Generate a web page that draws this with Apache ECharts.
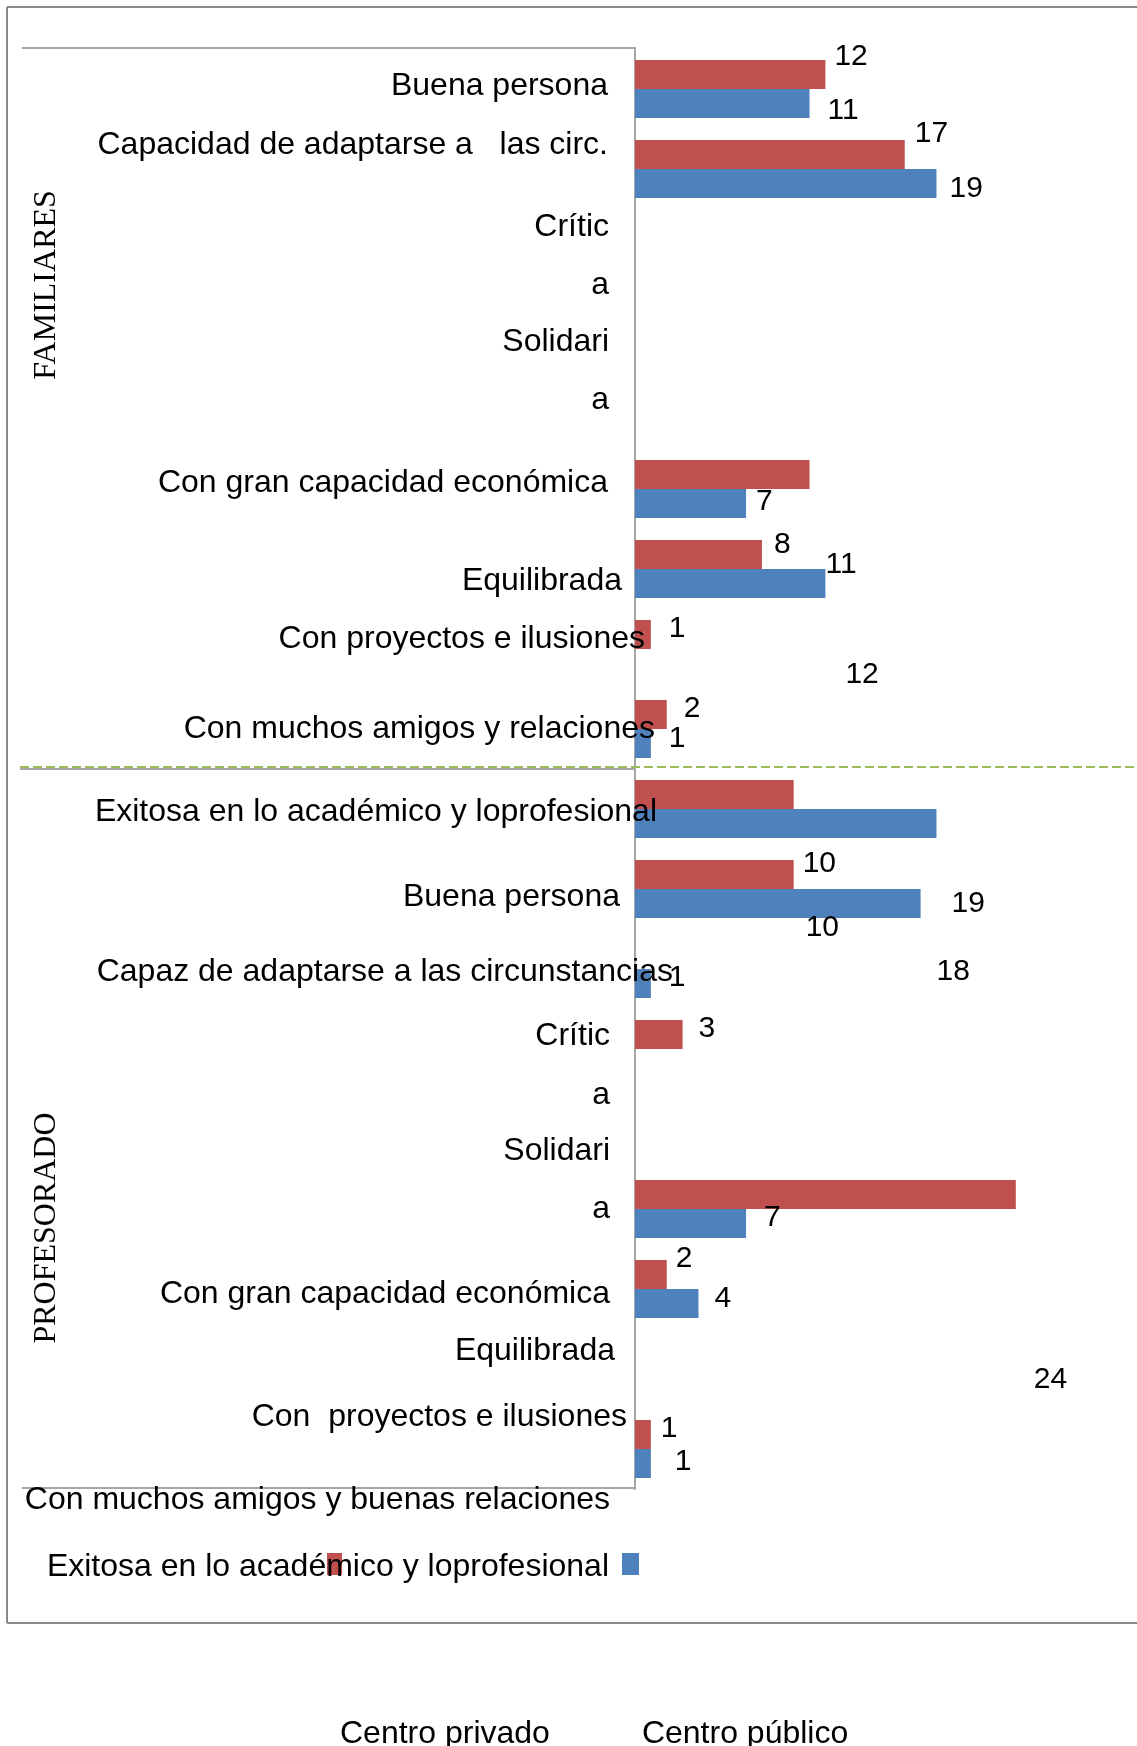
<!DOCTYPE html>
<html>
<head>
<meta charset="utf-8">
<script src="https://cdn.jsdelivr.net/npm/echarts@6/dist/echarts.min.js"></script>
<style>
  html, body { margin: 0; padding: 0; background: #fff; }
  #chart { width: 1137px; height: 1746px; }
</style>
</head>
<body>
<div id="chart"></div>
<script>
// rows of the category axis, top to bottom
const rows = [
  'F Buena persona', 'F Capacidad de adaptarse', 'F Crítica', 'F Solidaria', 'F -',
  'F Con gran capacidad económica', 'F Equilibrada', 'F Con proyectos e ilusiones',
  'F Con muchos amigos y relaciones',
  'P Exitosa', 'P Buena persona', 'P Capaz de adaptarse', 'P Crítica', 'P -',
  'P Solidaria', 'P Con gran capacidad económica', 'P Equilibrada', 'P Con proyectos e ilusiones'
]
const privado = [12, 17, 0, 0, 0, 11, 8, 1, 2, 10, 10, 0, 3, 0, 24, 2, 0, 1]
const publico = [11, 19, 0, 0, 0, 7, 12, 0, 1, 19, 18, 1, 0, 0, 7, 4, 0, 1]
const seriesNames = ['Centro privado', 'Centro público']

// the value labels sit away from their bars in the original
const privadoLabelShift = [[4, -18], [5, -21], null, null, null, [11, 90], [7, -10], [13, -6], [12, -6],
  [4, 69], [7, 53], null, [11, -6], null, [13, 185], [4, -16], null, [5, -6]]
const publicoLabelShift = [[13, 7], [8, 5], null, null, null, [5, -2], [15, 91], null, [13, -5],
  [10, 80], [11, 68], [13, -6], null, null, [13, -6], [11, -5], null, [19, -2]]

// category texts as printed, with where they sit (right edge, middle)
const axisTexts = [
  'Buena persona', 'Capacidad de adaptarse a   las circ.', 'Crític', 'a', 'Solidari', 'a',
  'Con gran capacidad económica', 'Equilibrada', 'Con proyectos e ilusiones', 'Con muchos amigos y relaciones',
  'Exitosa en lo académico y loprofesional', 'Buena persona', 'Capaz de adaptarse a las circunstancias',
  'Crític', 'a', 'Solidari', 'a', 'Con gran capacidad económica', 'Equilibrada',
  'Con  proyectos e ilusiones', 'Con muchos amigos y buenas relaciones',
  'Exitosa en lo académico y loprofesional'
]
const axisTextPos = [
  [608, 86], [608, 145], [609, 227], [609, 285], [609, 342], [609, 400],
  [608, 483], [622, 581], [645, 639], [655, 729],
  [657, 812], [620, 897], [673, 972],
  [610, 1036], [610, 1095], [610, 1151], [610, 1209], [610, 1294], [615, 1351],
  [627, 1417], [610, 1500],
  [609, 1567]
]
const groups = ['FAMILIARES', 'PROFESORADO']
const groupPos = [[47, 285], [47, 1228]]

const colors = ['#c0504d', '#4f81bd']
const sans = '"Liberation Sans", Arial, sans-serif'

function barData (values, shifts) {
  return values.map((v, i) => ({
    value: v,
    label: v > 0 ? { show: true, offset: shifts[i] || [0, 0] } : { show: false }
  }))
}

const graphics = []
const line = (x1, y1, x2, y2, stroke, extra) => ({
  type: 'line',
  shape: { x1, y1, x2, y2 },
  style: Object.assign({ stroke, lineWidth: 2 }, extra || {}),
  z: 5,
  silent: true
})
// outer frame (right side runs off the page)
graphics.push(line(7, 7, 1137, 7, '#8a8a8a'))
graphics.push(line(7, 7, 7, 1623, '#8a8a8a'))
graphics.push(line(7, 1623, 1137, 1623, '#8a8a8a'))
// inner box
graphics.push(line(22, 48, 636, 48, '#a6a6a6'))
graphics.push(line(22, 1488, 636, 1488, '#a6a6a6'))
graphics.push(line(20, 769, 636, 769, '#a6a6a6'))
graphics.push(line(20, 767, 1137, 767, '#9bbb59', { lineDash: [9, 4] }))

axisTexts.forEach((t, i) => {
  graphics.push({
    type: 'text',
    z: 100,
    silent: true,
    style: {
      text: t,
      x: axisTextPos[i][0],
      y: axisTextPos[i][1],
      textAlign: 'right',
      textVerticalAlign: 'middle',
      font: '32px ' + sans,
      fill: '#000'
    }
  })
})
groups.forEach((g, i) => {
  graphics.push({
    type: 'text',
    z: 100,
    silent: true,
    x: groupPos[i][0],
    y: groupPos[i][1],
    rotation: Math.PI / 2,
    style: {
      text: g,
      textAlign: 'center',
      textVerticalAlign: 'middle',
      font: '32px "Liberation Serif", "Times New Roman", serif',
      fill: '#000'
    }
  })
})
// legend swatches, drawn apart from their names
graphics.push({ type: 'rect', z: 50, silent: true, shape: { x: 327, y: 1553, width: 15, height: 22 }, style: { fill: colors[0] } })
graphics.push({ type: 'rect', z: 50, silent: true, shape: { x: 622, y: 1553, width: 17, height: 22 }, style: { fill: colors[1] } })

const chart = echarts.init(document.getElementById('chart'))
chart.setOption({
  animation: false,
  backgroundColor: '#fff',
  color: colors,
  textStyle: { fontFamily: sans },
  legend: {
    data: seriesNames,
    left: 335,
    top: 1718,
    padding: 0,
    itemWidth: 0,
    itemHeight: 0,
    itemGap: 87,
    icon: 'rect',
    selectedMode: false,
    textStyle: { fontSize: 32, color: '#000', fontFamily: sans }
  },
  grid: {
    left: 635,
    top: 49,
    right: 26,
    height: 1440,
    containLabel: false
  },
  xAxis: {
    type: 'value',
    show: false,
    min: 0,
    max: 30
  },
  yAxis: {
    type: 'category',
    data: rows,
    inverse: true,
    axisLabel: { show: false },
    axisTick: { show: false },
    splitLine: { show: false },
    axisLine: { lineStyle: { color: '#a6a6a6', width: 2 } }
  },
  series: [{
    name: seriesNames[0],
    type: 'bar',
    barWidth: 29,
    barGap: '0%',
    data: barData(privado, privadoLabelShift),
    label: { position: 'right', distance: 5, fontSize: 30, color: '#000', fontFamily: sans }
  }, {
    name: seriesNames[1],
    type: 'bar',
    barWidth: 29,
    barGap: '0%',
    data: barData(publico, publicoLabelShift),
    label: { position: 'right', distance: 5, fontSize: 30, color: '#000', fontFamily: sans }
  }],
  graphic: graphics
})
</script>
</body>
</html>
